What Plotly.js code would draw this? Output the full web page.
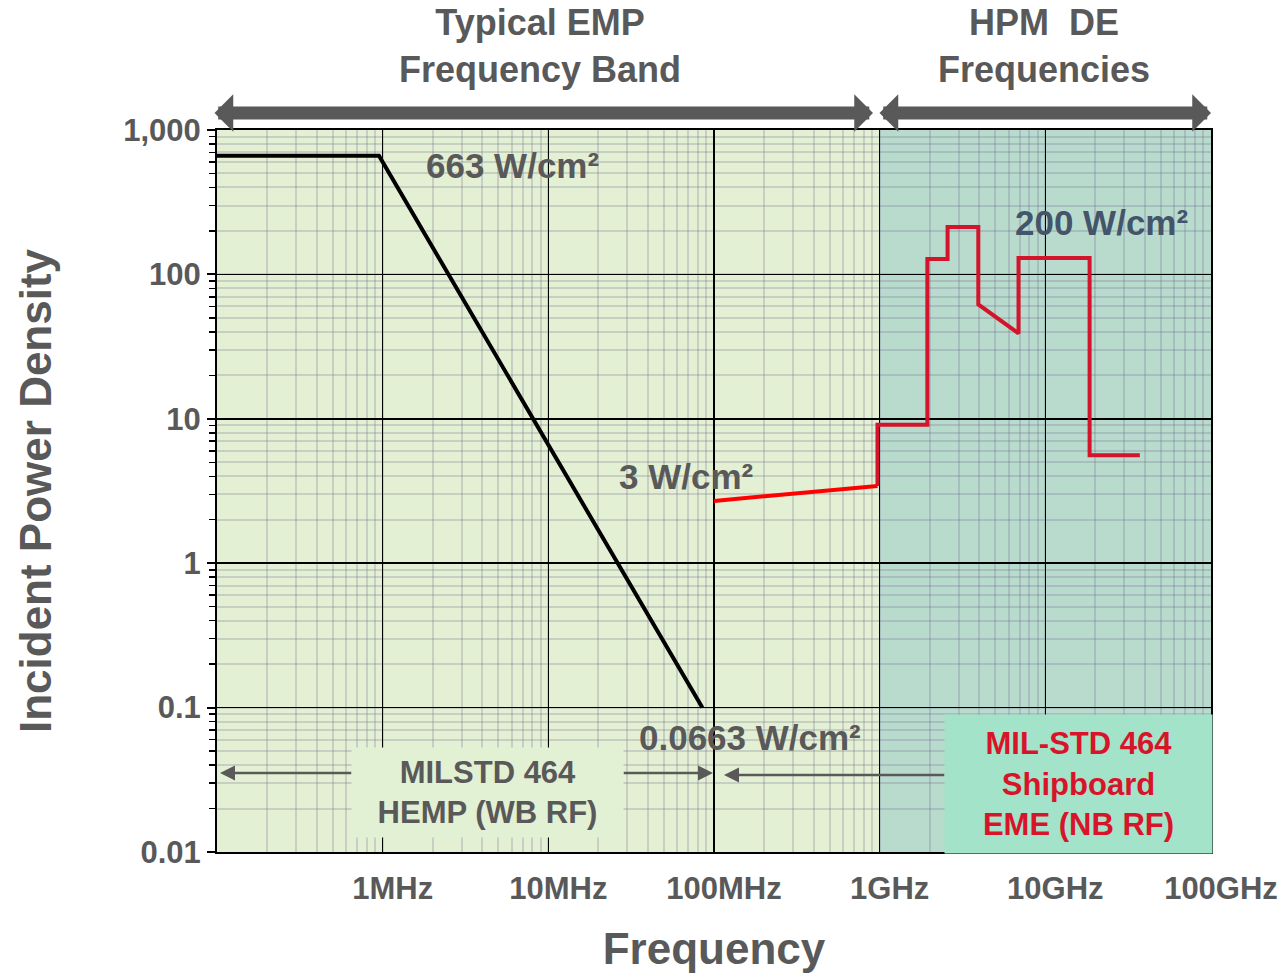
<!DOCTYPE html>
<html>
<head>
<meta charset="utf-8">
<script src="https://cdn.plot.ly/plotly-3.0.1.min.js"></script>
<style>html,body{margin:0;padding:0;background:#fff;}#chart{width:1281px;height:975px;}</style>
</head>
<body>
<div id="chart"></div>
<script>
// ---- data ----
const xTickVals = [1e6, 1e7, 1e8, 1e9, 1e10, 1e11];
const xTickText = ['1MHz', '10MHz', '100MHz', '1GHz', '10GHz', '100GHz'];
const yTickVals = [0.01, 0.1, 1, 10, 100, 1000];
const yTickText = ['0.01', '0.1', '1', '10', '100', '1,000'];

const hempFreq = [1e5, 9.5e5, 8.5e7];
const hempDensity = [663, 663, 0.1];

const emeLowFreq = [1e8, 9.7e8];
const emeLowDensity = [2.7, 3.43];

const emeHighFreq = [9.7e8, 9.7e8, 1.94e9, 1.94e9, 2.57e9, 2.57e9, 3.94e9, 3.94e9, 6.89e9, 6.89e9, 1.85e10, 1.85e10, 3.72e10];
const emeHighDensity = [3.43, 9.1, 9.1, 128, 128, 213, 213, 62, 39, 130, 130, 5.6, 5.6];

const labelTexts = {
  emp: 'Typical EMP<br>Frequency Band',
  hpm: 'HPM\u00A0 DE<br>Frequencies',
  peakHemp: '663 W/cm\u00B2',
  peakEme: '200 W/cm\u00B2',
  eme3: '3 W/cm\u00B2',
  lowHemp: '0.0663 W/cm\u00B2',
  hempBox: 'MILSTD 464<br>HEMP (WB RF)',
  emeBox: 'MIL-STD 464<br>Shipboard<br>EME (NB RF)'
};

// ---- layout helpers (pixel -> paper) ----
const L = 217, R = 1211, T = 130, B = 852;
const px = x => (x - L) / (R - L);
const py = y => (B - y) / (B - T);
const FONT = 'Liberation Sans, Arial, sans-serif';
const GREY = '#595959';

function txt(text, x, y, size, color, extra) {
  return Object.assign({
    xref: 'paper', yref: 'paper', x: px(x), y: py(y),
    xanchor: 'center', yanchor: 'middle', showarrow: false, text: text,
    font: {family: FONT, size: size, color: color, weight: 'bold'}
  }, extra || {});
}
function arrow(headX, headY, tailX, tailY, width, head, size, both) {
  const a = {
    xref: 'paper', yref: 'paper', x: px(headX), y: py(headY),
    axref: 'pixel', ayref: 'pixel', ax: tailX - headX, ay: tailY - headY,
    text: '', showarrow: true, arrowcolor: GREY, arrowwidth: width,
    arrowhead: head, arrowsize: size, standoff: 0, startstandoff: 0
  };
  if (both) { a.arrowside = 'end+start'; a.startarrowhead = head; a.startarrowsize = size; }
  return a;
}

const traces = [
  {x: hempFreq, y: hempDensity, mode: 'lines', line: {color: '#000000', width: 4}, hoverinfo: 'skip'},
  {x: emeLowFreq, y: emeLowDensity, mode: 'lines', line: {color: '#ff0000', width: 4}, hoverinfo: 'skip'},
  {x: emeHighFreq, y: emeHighDensity, mode: 'lines', line: {color: '#d3142a', width: 4}, hoverinfo: 'skip'}
];

const MINOR_GRID = 'rgba(100,92,130,0.22)';

const layout = {
  width: 1281, height: 975,
  margin: {l: L, r: 1281 - R, t: T, b: 975 - B},
  paper_bgcolor: '#ffffff',
  plot_bgcolor: '#e3f0d4',
  showlegend: false,
  font: {family: FONT, color: GREY},
  xaxis: {
    type: 'log', range: [5, 11], fixedrange: true,
    tickmode: 'array', tickvals: xTickVals, ticktext: xTickText,
    tickfont: {family: FONT, size: 31, color: GREY, weight: 'bold'},
    ticklabelshift: 10, ticklabelstandoff: 8,
    ticks: '', showgrid: true, gridcolor: '#000000', gridwidth: 1.5,
    minor: {dtick: 'D1', showgrid: true, gridcolor: MINOR_GRID, gridwidth: 2, ticks: ''},
    showline: true, linecolor: '#000000', linewidth: 2, mirror: true,
    title: {text: 'Frequency', standoff: 28, font: {family: FONT, size: 44, color: GREY, weight: 'bold'}}
  },
  yaxis: {
    type: 'log', range: [-2, 3], fixedrange: true,
    tickmode: 'array', tickvals: yTickVals, ticktext: yTickText,
    tickfont: {family: FONT, size: 31, color: GREY, weight: 'bold'},
    ticks: 'outside', ticklen: 8, tickwidth: 2, tickcolor: '#000000',
    showgrid: true, gridcolor: '#000000', gridwidth: 1.5,
    minor: {dtick: 'D1', showgrid: true, gridcolor: MINOR_GRID, gridwidth: 2,
            ticks: 'outside', ticklen: 6, tickwidth: 1.5, tickcolor: '#000000'},
    showline: true, linecolor: '#000000', linewidth: 2, mirror: true,
    title: {text: 'Incident Power Density', standoff: 58, font: {family: FONT, size: 44, color: GREY, weight: 'bold'}}
  },
  shapes: [
    {type: 'rect', xref: 'paper', yref: 'paper', x0: 4 / 6, x1: 1, y0: 0, y1: 1,
     fillcolor: '#b9dbcd', line: {width: 0}, layer: 'below'}
  ],
  annotations: [
    txt(labelTexts.emp, 540, 46, 36, GREY),
    txt(labelTexts.hpm, 1044, 46, 36, GREY),
    arrow(873, 113, 213, 113, 13, 1, 0.48, true),
    arrow(1211, 113, 878, 113, 13, 1, 0.48, true),
    txt(labelTexts.peakHemp, 512, 166, 35, GREY),
    txt(labelTexts.peakEme, 1101, 222, 35, '#44546a'),
    txt(labelTexts.eme3, 686, 476, 35, GREY),
    txt(labelTexts.lowHemp, 750, 737, 35, GREY),
    arrow(220, 773, 353, 773, 2.5, 2, 1.2, false),
    arrow(713, 773, 622, 773, 2.5, 2, 1.2, false),
    arrow(724, 775, 946, 775, 2.5, 2, 1.2, false),
    txt(labelTexts.hempBox, 487.5, 792, 31, GREY, {bgcolor: '#e2f0d3', width: 269, height: 87}),
    txt(labelTexts.emeBox, 1078.5, 784, 31, '#d7142a', {bgcolor: '#a3e3c9', width: 265, height: 136})
  ]
};

Plotly.newPlot('chart', traces, layout, {staticPlot: true, displayModeBar: false});
</script>
</body>
</html>
